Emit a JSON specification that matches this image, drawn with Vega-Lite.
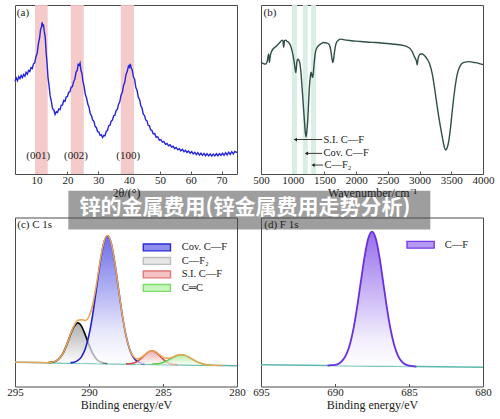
{
  "$schema": "https://vega.github.io/schema/vega-lite/v6.json",
  "background": "white",
  "padding": {"left": 6, "top": 4, "right": 4, "bottom": 4},
  "bounds": "flush",
  "columns": 2,
  "spacing": {"row": 43.5, "column": 24},
  "resolve": {"scale": {"x": "independent", "y": "independent", "fill": "independent", "stroke": "independent"}, "legend": {"fill": "independent", "stroke": "independent"}},
  "config": {
    "font": "Liberation Serif",
    "view": {"stroke": "#4a4a4a", "strokeWidth": 1},
    "text": {"font": "Liberation Serif", "fontSize": 11, "color": "#222222"},
    "axis": {
      "grid": false, "domain": false, "ticks": true, "tickSize": -3, "tickColor": "#555555",
      "labelFont": "Liberation Serif", "labelFontSize": 11, "labelColor": "#222222", "labelPadding": 3,
      "labelFlush": false, "labelOverlap": false, "labelBound": false,
      "titleFont": "Liberation Serif", "titleFontSize": 12, "titleFontWeight": "normal", "titleColor": "#222222", "titlePadding": 2
    }
  },
  "datasets": {
    "xrd": [
      {"angle":3,"counts":55},{"angle":3.4,"counts":56.8},{"angle":3.8,"counts":55.2},{"angle":4.2,"counts":57.6},{"angle":4.6,"counts":56.4},{"angle":5,"counts":58.3},{"angle":5.4,"counts":57},{"angle":5.8,"counts":58.9},{"angle":6.2,"counts":57.9},{"angle":6.6,"counts":60.2},{"angle":7,"counts":59.1},{"angle":7.4,"counts":61.3},{"angle":7.8,"counts":60.6},{"angle":8.2,"counts":62.9},{"angle":8.6,"counts":62.4},{"angle":9,"counts":65.2},{"angle":9.4,"counts":65.8},{"angle":9.8,"counts":69.4},{"angle":10.2,"counts":71.5},{"angle":10.6,"counts":77.2},{"angle":11,"counts":80.9},{"angle":11.3,"counts":85.6},{"angle":11.6,"counts":86.9},{"angle":11.8,"counts":89.8},{"angle":12,"counts":87.4},{"angle":12.2,"counts":88.6},{"angle":12.5,"counts":84.2},{"angle":12.8,"counts":81},{"angle":13.1,"counts":72},{"angle":13.4,"counts":65.5},{"angle":13.7,"counts":57.2},{"angle":14,"counts":53},{"angle":14.4,"counts":46.2},{"angle":14.8,"counts":42.8},{"angle":15.2,"counts":38.6},{"angle":15.6,"counts":37.9},{"angle":16,"counts":35.2},{"angle":16.4,"counts":36.8},{"angle":16.8,"counts":36.4},{"angle":17.2,"counts":38.5},{"angle":17.6,"counts":38.1},{"angle":18,"counts":40.6},{"angle":18.4,"counts":40.9},{"angle":18.8,"counts":43.5},{"angle":19.2,"counts":43},{"angle":19.6,"counts":45.6},{"angle":20,"counts":45.8},{"angle":20.4,"counts":48.3},{"angle":20.8,"counts":48.6},{"angle":21.2,"counts":51.4},{"angle":21.6,"counts":51.6},{"angle":22,"counts":54.6},{"angle":22.4,"counts":56.1},{"angle":22.8,"counts":60.2},{"angle":23.2,"counts":61.4},{"angle":23.5,"counts":64.8},{"angle":23.8,"counts":64.3},{"angle":24.1,"counts":65.6},{"angle":24.4,"counts":61.2},{"angle":24.7,"counts":59.6},{"angle":25,"counts":55.3},{"angle":25.4,"counts":52},{"angle":25.8,"counts":47.2},{"angle":26.2,"counts":45.1},{"angle":26.6,"counts":41.4},{"angle":27,"counts":39.6},{"angle":27.4,"counts":35.8},{"angle":27.8,"counts":34.6},{"angle":28.2,"counts":31.9},{"angle":28.6,"counts":31.2},{"angle":29,"counts":28.2},{"angle":29.4,"counts":27.4},{"angle":29.8,"counts":25},{"angle":30.2,"counts":24.8},{"angle":30.6,"counts":22.9},{"angle":31,"counts":23.3},{"angle":31.4,"counts":21.6},{"angle":31.8,"counts":22.9},{"angle":32.2,"counts":22.6},{"angle":32.6,"counts":25.2},{"angle":33,"counts":25.8},{"angle":33.4,"counts":28.6},{"angle":33.8,"counts":28.9},{"angle":34.2,"counts":31.3},{"angle":34.6,"counts":31.9},{"angle":35,"counts":34.5},{"angle":35.4,"counts":34.8},{"angle":35.8,"counts":37.6},{"angle":36.2,"counts":38.2},{"angle":36.6,"counts":41.3},{"angle":37,"counts":42.9},{"angle":37.4,"counts":46.8},{"angle":37.8,"counts":48.2},{"angle":38.2,"counts":52.4},{"angle":38.6,"counts":54.3},{"angle":39,"counts":58.9},{"angle":39.4,"counts":60.6},{"angle":39.8,"counts":63.9},{"angle":40.1,"counts":63.2},{"angle":40.4,"counts":65.1},{"angle":40.7,"counts":62.5},{"angle":41,"counts":61.8},{"angle":41.4,"counts":57.6},{"angle":41.8,"counts":55.9},{"angle":42.2,"counts":51.1},{"angle":42.6,"counts":49.4},{"angle":43,"counts":45.3},{"angle":43.4,"counts":44.1},{"angle":43.8,"counts":40.4},{"angle":44.2,"counts":39},{"angle":44.6,"counts":35.4},{"angle":45,"counts":34.6},{"angle":45.4,"counts":32},{"angle":45.8,"counts":31.4},{"angle":46.2,"counts":28.8},{"angle":46.6,"counts":28.5},{"angle":47,"counts":26.1},{"angle":47.4,"counts":25.9},{"angle":47.8,"counts":23.8},{"angle":48.3,"counts":23.9},{"angle":48.8,"counts":21.7},{"angle":49.3,"counts":22},{"angle":49.8,"counts":20.1},{"angle":50.3,"counts":20.4},{"angle":50.8,"counts":18.8},{"angle":51.3,"counts":19.2},{"angle":51.8,"counts":17.6},{"angle":52.3,"counts":18.1},{"angle":52.8,"counts":16.7},{"angle":53.3,"counts":17.3},{"angle":53.8,"counts":15.9},{"angle":54.3,"counts":16.4},{"angle":54.8,"counts":15},{"angle":55.3,"counts":15.7},{"angle":55.8,"counts":14.3},{"angle":56.3,"counts":15},{"angle":56.8,"counts":13.7},{"angle":57.3,"counts":14.6},{"angle":57.8,"counts":13.2},{"angle":58.3,"counts":14},{"angle":58.8,"counts":12.8},{"angle":59.3,"counts":13.6},{"angle":59.8,"counts":12.3},{"angle":60.3,"counts":13.2},{"angle":60.8,"counts":11.9},{"angle":61.3,"counts":12.8},{"angle":61.8,"counts":11.5},{"angle":62.3,"counts":12.6},{"angle":62.8,"counts":11.2},{"angle":63.3,"counts":12.3},{"angle":63.8,"counts":11},{"angle":64.3,"counts":12.2},{"angle":64.8,"counts":10.8},{"angle":65.3,"counts":12},{"angle":65.8,"counts":10.7},{"angle":66.3,"counts":11.9},{"angle":66.8,"counts":10.6},{"angle":67.3,"counts":11.8},{"angle":67.8,"counts":10.7},{"angle":68.3,"counts":12},{"angle":68.8,"counts":10.8},{"angle":69.3,"counts":12.1},{"angle":69.8,"counts":11},{"angle":70.3,"counts":12.3},{"angle":70.8,"counts":11.1},{"angle":71.3,"counts":12.6},{"angle":71.8,"counts":11.3},{"angle":72.3,"counts":12.9},{"angle":72.8,"counts":11.6},{"angle":73.3,"counts":13.2},{"angle":73.8,"counts":11.9},{"angle":74.3,"counts":13.4},{"angle":75,"counts":12.6}
    ],
    "ftir": [
      {"wn":500,"T":66},{"wn":530,"T":65.5},{"wn":568,"T":65},{"wn":600,"T":67},{"wn":621,"T":71},{"wn":632,"T":66},{"wn":647,"T":70},{"wn":674,"T":73},{"wn":720,"T":75},{"wn":753,"T":76},{"wn":800,"T":78},{"wn":832,"T":79.2},{"wn":845,"T":79},{"wn":858,"T":75},{"wn":870,"T":79},{"wn":884,"T":79.2},{"wn":910,"T":78.5},{"wn":937,"T":77.8},{"wn":965,"T":76},{"wn":989,"T":73},{"wn":1016,"T":68},{"wn":1035,"T":63},{"wn":1050,"T":60},{"wn":1065,"T":66},{"wn":1079,"T":68},{"wn":1095,"T":67.5},{"wn":1110,"T":66},{"wn":1130,"T":60},{"wn":1147,"T":51.4},{"wn":1165,"T":42},{"wn":1184,"T":31.8},{"wn":1200,"T":24},{"wn":1210,"T":22},{"wn":1222,"T":25},{"wn":1237,"T":31.8},{"wn":1250,"T":42},{"wn":1263,"T":51.4},{"wn":1276,"T":57},{"wn":1289,"T":60.2},{"wn":1300,"T":59},{"wn":1310,"T":57.2},{"wn":1320,"T":58},{"wn":1332,"T":63},{"wn":1345,"T":68},{"wn":1358,"T":72},{"wn":1380,"T":74.5},{"wn":1410,"T":76},{"wn":1450,"T":77.2},{"wn":1489,"T":77.8},{"wn":1530,"T":77.5},{"wn":1568,"T":76.9},{"wn":1590,"T":75},{"wn":1605,"T":72},{"wn":1620,"T":68},{"wn":1632,"T":66},{"wn":1645,"T":68},{"wn":1658,"T":72},{"wn":1675,"T":76},{"wn":1690,"T":77.8},{"wn":1720,"T":79.2},{"wn":1753,"T":79.8},{"wn":1800,"T":79.5},{"wn":1900,"T":79},{"wn":2000,"T":78.6},{"wn":2068,"T":78.4},{"wn":2200,"T":78},{"wn":2300,"T":77.8},{"wn":2437,"T":77.4},{"wn":2600,"T":76.8},{"wn":2753,"T":76},{"wn":2820,"T":75},{"wn":2858,"T":73.9},{"wn":2890,"T":72},{"wn":2911,"T":70},{"wn":2925,"T":69},{"wn":2937,"T":68},{"wn":2950,"T":67},{"wn":2963,"T":64.5},{"wn":2975,"T":68},{"wn":2990,"T":70},{"wn":3015,"T":71},{"wn":3042,"T":71},{"wn":3080,"T":70},{"wn":3121,"T":68},{"wn":3160,"T":65},{"wn":3200,"T":59.2},{"wn":3240,"T":50},{"wn":3279,"T":39.6},{"wn":3320,"T":30},{"wn":3358,"T":22},{"wn":3390,"T":16},{"wn":3411,"T":14.1},{"wn":3435,"T":15.5},{"wn":3463,"T":20},{"wn":3490,"T":28},{"wn":3516,"T":37.6},{"wn":3555,"T":50},{"wn":3595,"T":59.2},{"wn":3640,"T":64},{"wn":3700,"T":66},{"wn":3780,"T":66.5},{"wn":3858,"T":66},{"wn":3930,"T":65.5},{"wn":4000,"T":64.7}
    ],
    "c1s": [
      {"comp":"Cov. C—F","be":291.25,"y":14.1,"b":13.9},{"comp":"Cov. C—F","be":291,"y":14.4,"b":13.8},{"comp":"Cov. C—F","be":290.75,"y":15.4,"b":13.8},{"comp":"Cov. C—F","be":290.5,"y":17.7,"b":13.8},{"comp":"Cov. C—F","be":290.25,"y":22.3,"b":13.7},{"comp":"Cov. C—F","be":290,"y":30.5,"b":13.7},{"comp":"Cov. C—F","be":289.75,"y":42.6,"b":13.7},{"comp":"Cov. C—F","be":289.5,"y":57.6,"b":13.6},{"comp":"Cov. C—F","be":289.25,"y":73.1,"b":13.6},{"comp":"Cov. C—F","be":289,"y":84.9,"b":13.6},{"comp":"Cov. C—F","be":288.75,"y":89.2,"b":13.5},{"comp":"Cov. C—F","be":288.5,"y":84.8,"b":13.5},{"comp":"Cov. C—F","be":288.25,"y":73,"b":13.5},{"comp":"Cov. C—F","be":288,"y":57.4,"b":13.4},{"comp":"Cov. C—F","be":287.75,"y":42.3,"b":13.4},{"comp":"Cov. C—F","be":287.5,"y":30.2,"b":13.4},{"comp":"Cov. C—F","be":287.25,"y":21.9,"b":13.3},{"comp":"Cov. C—F","be":287,"y":17.2,"b":13.3},{"comp":"Cov. C—F","be":286.75,"y":14.8,"b":13.2},{"comp":"Cov. C—F","be":286.5,"y":13.8,"b":13.2},{"comp":"Cov. C—F","be":286.25,"y":13.4,"b":13.2},
      {"comp":"C—F₂","be":292.75,"y":14.2,"b":14.1},{"comp":"C—F₂","be":292.5,"y":14.4,"b":14.1},{"comp":"C—F₂","be":292.25,"y":15,"b":14},{"comp":"C—F₂","be":292,"y":16.7,"b":14},{"comp":"C—F₂","be":291.75,"y":19.8,"b":13.9},{"comp":"C—F₂","be":291.5,"y":24.8,"b":13.9},{"comp":"C—F₂","be":291.25,"y":30.7,"b":13.9},{"comp":"C—F₂","be":291,"y":35.6,"b":13.8},{"comp":"C—F₂","be":290.75,"y":37.6,"b":13.8},{"comp":"C—F₂","be":290.5,"y":35.6,"b":13.8},{"comp":"C—F₂","be":290.25,"y":30.5,"b":13.7},{"comp":"C—F₂","be":290,"y":24.6,"b":13.7},{"comp":"C—F₂","be":289.75,"y":19.6,"b":13.7},{"comp":"C—F₂","be":289.5,"y":16.3,"b":13.6},{"comp":"C—F₂","be":289.25,"y":14.6,"b":13.6},{"comp":"C—F₂","be":289,"y":13.9,"b":13.6},{"comp":"C—F₂","be":288.75,"y":13.6,"b":13.5},
      {"comp":"S.I. C—F","be":287.5,"y":13.5,"b":13.4},{"comp":"S.I. C—F","be":287.25,"y":13.5,"b":13.3},{"comp":"S.I. C—F","be":287,"y":13.9,"b":13.3},{"comp":"S.I. C—F","be":286.75,"y":14.7,"b":13.2},{"comp":"S.I. C—F","be":286.5,"y":16.4,"b":13.2},{"comp":"S.I. C—F","be":286.25,"y":18.5,"b":13.2},{"comp":"S.I. C—F","be":286,"y":20.3,"b":13.1},{"comp":"S.I. C—F","be":285.75,"y":21.1,"b":13.1},{"comp":"S.I. C—F","be":285.5,"y":20.3,"b":13.1},{"comp":"S.I. C—F","be":285.25,"y":18.3,"b":13},{"comp":"S.I. C—F","be":285,"y":16.2,"b":13},{"comp":"S.I. C—F","be":284.75,"y":14.5,"b":13},{"comp":"S.I. C—F","be":284.5,"y":13.5,"b":12.9},{"comp":"S.I. C—F","be":284.25,"y":13.1,"b":12.9},{"comp":"S.I. C—F","be":284,"y":13,"b":12.9},
      {"comp":"C═C","be":285.75,"y":13.2,"b":13.1},{"comp":"C═C","be":285.5,"y":13.4,"b":13.1},{"comp":"C═C","be":285.25,"y":13.6,"b":13},{"comp":"C═C","be":285,"y":14.2,"b":13},{"comp":"C═C","be":284.75,"y":15.2,"b":13},{"comp":"C═C","be":284.5,"y":16.3,"b":12.9},{"comp":"C═C","be":284.25,"y":17.5,"b":12.9},{"comp":"C═C","be":284,"y":18.5,"b":12.9},{"comp":"C═C","be":283.75,"y":18.8,"b":12.8},{"comp":"C═C","be":283.5,"y":18.4,"b":12.8},{"comp":"C═C","be":283.25,"y":17.4,"b":12.8},{"comp":"C═C","be":283,"y":16.1,"b":12.7},{"comp":"C═C","be":282.75,"y":14.9,"b":12.7},{"comp":"C═C","be":282.5,"y":13.9,"b":12.7},{"comp":"C═C","be":282.25,"y":13.2,"b":12.6},{"comp":"C═C","be":282,"y":12.9,"b":12.6},{"comp":"C═C","be":281.75,"y":12.6,"b":12.5}
    ],
    "c1sEnvelope": [
      {"be":295,"y":14.4},{"be":294,"y":14.3},{"be":293.5,"y":14.2},{"be":293,"y":14.1},{"be":292.75,"y":14.2},{"be":292.5,"y":14.4},{"be":292.25,"y":15},{"be":292,"y":16.7},{"be":291.75,"y":19.8},{"be":291.5,"y":24.8},{"be":291.25,"y":30.9},{"be":291,"y":36.2},{"be":290.75,"y":39.2},{"be":290.5,"y":39.5},{"be":290.25,"y":39.1},{"be":290,"y":41.4},{"be":289.75,"y":48.5},{"be":289.5,"y":60.3},{"be":289.25,"y":74.1},{"be":289,"y":85.2},{"be":288.75,"y":89.3},{"be":288.5,"y":84.8},{"be":288.25,"y":73},{"be":288,"y":57.4},{"be":287.75,"y":42.3},{"be":287.5,"y":30.3},{"be":287.25,"y":22.1},{"be":287,"y":17.8},{"be":286.75,"y":16.3},{"be":286.5,"y":17},{"be":286.25,"y":18.7},{"be":286,"y":20.3},{"be":285.75,"y":21.2},{"be":285.5,"y":20.6},{"be":285.25,"y":18.9},{"be":285,"y":17.4},{"be":284.75,"y":16.7},{"be":284.5,"y":16.9},{"be":284.25,"y":17.7},{"be":284,"y":18.6},{"be":283.75,"y":18.8},{"be":283.5,"y":18.4},{"be":283.25,"y":17.4},{"be":283,"y":16.1},{"be":282.75,"y":14.9},{"be":282.5,"y":13.9},{"be":282.25,"y":13.2},{"be":282,"y":12.9},{"be":281.75,"y":12.6},{"be":281.5,"y":12.5},{"be":281,"y":12.4}
    ],
    "f1s": [
      {"be":690.5,"y":12.4,"b":12.4},{"be":690.25,"y":12.6,"b":12.4},{"be":690,"y":12.8,"b":12.3},{"be":689.75,"y":13.5,"b":12.3},{"be":689.5,"y":15.3,"b":12.3},{"be":689.25,"y":18.7,"b":12.3},{"be":689,"y":24.7,"b":12.2},{"be":688.75,"y":34.2,"b":12.2},{"be":688.5,"y":47.2,"b":12.2},{"be":688.25,"y":62.3,"b":12.2},{"be":688,"y":76.9,"b":12.2},{"be":687.75,"y":87.7,"b":12.1},{"be":687.5,"y":91.7,"b":12.1},{"be":687.25,"y":87.7,"b":12.1},{"be":687,"y":76.9,"b":12.1},{"be":686.75,"y":62.1,"b":12},{"be":686.5,"y":47,"b":12},{"be":686.25,"y":34,"b":12},{"be":686,"y":24.5,"b":12},{"be":685.75,"y":18.3,"b":11.9},{"be":685.5,"y":14.9,"b":11.9},{"be":685.25,"y":13.1,"b":11.9},{"be":685,"y":12.4,"b":11.9},{"be":684.75,"y":12,"b":11.8},{"be":684.5,"y":11.8,"b":11.8}
    ]
  },
  "concat": [
    {
      "width": 222, "height": 169,
      "layer": [
        {
          "data": {"values": [{"lo": 9.5, "hi": 13.6}, {"lo": 21.1, "hi": 25.3}, {"lo": 37.3, "hi": 41.6}]},
          "mark": {"type": "rect", "color": "#f3c4c4", "opacity": 0.9},
          "encoding": {
            "x": {"field": "lo", "type": "quantitative", "scale": {"domain": [3, 75], "nice": false, "zero": false}, "axis": {"values": [10, 20, 30, 40, 50, 60, 70], "tickCount": 12, "format": "d", "labelOverlap": false, "title": "2θ/(°)"}},
            "x2": {"field": "hi"}
          }
        },
        {
          "data": {"name": "xrd"},
          "mark": {"type": "line", "color": "#2424de", "strokeWidth": 1.4},
          "encoding": {
            "x": {"field": "angle", "type": "quantitative"},
            "y": {"field": "counts", "type": "quantitative", "scale": {"domain": [0, 100]}, "axis": null}
          }
        },
        {
          "data": {"values": [{"hkl": "(001)", "angle": 10.5}, {"hkl": "(002)", "angle": 22.75}, {"hkl": "(100)", "angle": 39.7}]},
          "mark": {"type": "text", "align": "center", "baseline": "middle", "fontSize": 11},
          "encoding": {
            "x": {"field": "angle", "type": "quantitative"},
            "y": {"datum": 10.8, "type": "quantitative"},
            "text": {"field": "hkl"}
          }
        },
        {
          "data": {"values": [{}]},
          "mark": {"type": "text", "align": "left", "baseline": "middle", "fontSize": 11},
          "encoding": {
            "x": {"datum": 3.6, "type": "quantitative"},
            "y": {"datum": 95.5, "type": "quantitative"},
            "text": {"value": "(a)"}
          }
        },
        {
          "data": {"values": [{"headline": "锌的金属费用(锌金属费用走势分析)"}]},
          "layer": [
            {
              "mark": {"type": "rect", "color": "#000000", "opacity": 0.38},
              "encoding": {
                "x": {"datum": 20.3, "type": "quantitative"},
                "x2": {"datum": 137.7},
                "y": {"datum": -9.9, "type": "quantitative"},
                "y2": {"datum": -32.9}
              }
            },
            {
              "mark": {"type": "text", "font": "Noto Sans CJK SC", "fontWeight": "bold", "fontSize": 21, "color": "#ffffff", "align": "center", "baseline": "middle"},
              "encoding": {
                "x": {"datum": 77.6, "type": "quantitative"},
                "y": {"datum": -20.4, "type": "quantitative"},
                "text": {"field": "headline"}
              }
            }
          ]
        }
      ]
    },
    {
      "width": 222, "height": 169,
      "layer": [
        {
          "data": {"values": [{"lo": 989, "hi": 1068}, {"lo": 1158, "hi": 1237}, {"lo": 1289, "hi": 1368}]},
          "mark": {"type": "rect", "color": "#d5ede1", "opacity": 0.9},
          "encoding": {
            "x": {"field": "lo", "type": "quantitative", "scale": {"domain": [500, 4000], "nice": false, "zero": false}, "axis": {"values": [500, 1000, 1500, 2000, 2500, 3000, 3500, 4000], "tickCount": 12, "format": "d", "labelOverlap": false, "title": "Wavenumber/cm⁻¹"}},
            "x2": {"field": "hi"}
          }
        },
        {
          "data": {"name": "ftir"},
          "mark": {"type": "line", "color": "#2f4e47", "strokeWidth": 1.4, "interpolate": "monotone"},
          "encoding": {
            "x": {"field": "wn", "type": "quantitative"},
            "y": {"field": "T", "type": "quantitative", "scale": {"domain": [0, 100]}, "axis": null}
          }
        },
        {
          "data": {"values": [{"band": "S.I. C—F", "tip": 1042, "tail": 1465, "tx": 1485, "level": 20.4}, {"band": "Cov. C—F", "tip": 1216, "tail": 1465, "tx": 1485, "level": 12.2}, {"band": "C—F₂", "tip": 1321, "tail": 1480, "tx": 1500, "level": 5.3}]},
          "layer": [
            {
              "mark": {"type": "rule", "color": "#222222", "strokeWidth": 0.9},
              "encoding": {
                "x": {"field": "tip", "type": "quantitative"},
                "x2": {"field": "tail"},
                "y": {"field": "level", "type": "quantitative"}
              }
            },
            {
              "mark": {"type": "point", "shape": "triangle-left", "filled": true, "color": "#222222", "size": 14, "opacity": 1},
              "encoding": {
                "x": {"field": "tip", "type": "quantitative"},
                "y": {"field": "level", "type": "quantitative"}
              }
            },
            {
              "mark": {"type": "text", "align": "left", "baseline": "middle", "fontSize": 10.5},
              "encoding": {
                "x": {"field": "tx", "type": "quantitative"},
                "y": {"field": "level", "type": "quantitative"},
                "text": {"field": "band"}
              }
            }
          ]
        },
        {
          "data": {"values": [{}]},
          "mark": {"type": "text", "align": "left", "baseline": "middle", "fontSize": 11},
          "encoding": {
            "x": {"datum": 541, "type": "quantitative"},
            "y": {"datum": 95.5, "type": "quantitative"},
            "text": {"value": "(b)"}
          }
        }
      ]
    },
    {
      "width": 222, "height": 169,
      "layer": [
        {
          "data": {"values": [{"be": 295, "v": 14.4}, {"be": 280, "v": 12.3}]},
          "mark": {"type": "line", "color": "#5cb8ad", "strokeWidth": 1.5},
          "encoding": {
            "x": {"field": "be", "type": "quantitative", "scale": {"domain": [280, 295], "reverse": true, "nice": false, "zero": false}, "axis": {"values": [295, 290, 285, 280], "tickCount": 12, "format": "d", "labelOverlap": false, "title": "Binding energy/eV"}},
            "y": {"field": "v", "type": "quantitative", "scale": {"domain": [0, 100]}, "axis": null}
          }
        },
        {
          "data": {"name": "c1s"},
          "transform": [{"filter": "datum.comp === 'C—F₂'"}],
          "mark": {"type": "area", "interpolate": "monotone", "color": {"gradient": "linear", "x1": 0, "y1": 0, "x2": 0, "y2": 1, "stops": [{"offset": 0, "color": "#8c8c8c"}, {"offset": 1, "color": "#ffffff"}]}, "line": {"color": "#0d0d0d", "strokeWidth": 1.7}},
          "encoding": {"x": {"field": "be", "type": "quantitative"}, "y": {"field": "y", "type": "quantitative"}, "y2": {"field": "b"}}
        },
        {
          "data": {"name": "c1s"},
          "transform": [{"filter": "datum.comp === 'Cov. C—F'"}],
          "mark": {"type": "area", "interpolate": "monotone", "color": {"gradient": "linear", "x1": 0, "y1": 0, "x2": 0, "y2": 1, "stops": [{"offset": 0, "color": "#2f2fe0"}, {"offset": 0.75, "color": "#dedefa"}, {"offset": 1, "color": "#ffffff"}]}, "line": {"color": "#2121c9", "strokeWidth": 1.6}},
          "encoding": {"x": {"field": "be", "type": "quantitative"}, "y": {"field": "y", "type": "quantitative"}, "y2": {"field": "b"}}
        },
        {
          "data": {"name": "c1s"},
          "transform": [{"filter": "datum.comp === 'S.I. C—F'"}],
          "mark": {"type": "area", "interpolate": "monotone", "color": {"gradient": "linear", "x1": 0, "y1": 0, "x2": 0, "y2": 1, "stops": [{"offset": 0, "color": "#e58a8a"}, {"offset": 1, "color": "#ffffff"}]}, "line": {"color": "#d24a4a", "strokeWidth": 1.5}},
          "encoding": {"x": {"field": "be", "type": "quantitative"}, "y": {"field": "y", "type": "quantitative"}, "y2": {"field": "b"}}
        },
        {
          "data": {"name": "c1s"},
          "transform": [{"filter": "datum.comp === 'C═C'"}],
          "mark": {"type": "area", "interpolate": "monotone", "color": {"gradient": "linear", "x1": 0, "y1": 0, "x2": 0, "y2": 1, "stops": [{"offset": 0, "color": "#93e47f"}, {"offset": 1, "color": "#ffffff"}]}, "line": {"color": "#62cf45", "strokeWidth": 1.5}},
          "encoding": {"x": {"field": "be", "type": "quantitative"}, "y": {"field": "y", "type": "quantitative"}, "y2": {"field": "b"}}
        },
        {
          "data": {"name": "c1sEnvelope"},
          "mark": {"type": "line", "interpolate": "monotone", "color": "#eaa457", "strokeWidth": 1.5},
          "encoding": {"x": {"field": "be", "type": "quantitative"}, "y": {"field": "y", "type": "quantitative"}}
        },
        {
          "data": {"values": []},
          "mark": {"type": "point", "filled": true, "opacity": 1, "strokeWidth": 1.4},
          "encoding": {
            "fill": {
              "field": "comp", "type": "nominal",
              "scale": {"domain": ["Cov. C—F", "C—F₂", "S.I. C—F", "C═C"], "range": ["#8f8fee", "#e6e6e6", "#f4c2c2", "#c8f4bd"]},
              "legend": {
                "title": null, "orient": "none", "legendX": 128.3, "legendY": 24.7, "padding": 0,
                "symbolType": "M-3.4,-0.85H3.4V0.85H-3.4Z", "symbolSize": 64, "symbolStrokeWidth": 1.4,
                "symbolOffset": 8.35, "labelOffset": 19.5, "rowPadding": 0.5,
                "labelFont": "Liberation Serif", "labelFontSize": 10.5, "labelColor": "#222222"
              }
            },
            "stroke": {
              "field": "comp", "type": "nominal",
              "scale": {"domain": ["Cov. C—F", "C—F₂", "S.I. C—F", "C═C"], "range": ["#2a2ad8", "#bdbdbd", "#e07878", "#7ddc6a"]},
              "legend": {
                "title": null, "orient": "none", "legendX": 128.3, "legendY": 24.7, "padding": 0,
                "symbolType": "M-3.4,-0.85H3.4V0.85H-3.4Z", "symbolSize": 64, "symbolStrokeWidth": 1.4,
                "symbolOffset": 8.35, "labelOffset": 19.5, "rowPadding": 0.5,
                "labelFont": "Liberation Serif", "labelFontSize": 10.5, "labelColor": "#222222"
              }
            }
          }
        },
        {
          "data": {"values": [{}]},
          "mark": {"type": "text", "align": "left", "baseline": "middle", "fontSize": 11},
          "encoding": {
            "x": {"datum": 294.85, "type": "quantitative"},
            "y": {"datum": 95.3, "type": "quantitative"},
            "text": {"value": "(c)  C 1s"}
          }
        }
      ]
    },
    {
      "width": 222, "height": 169,
      "layer": [
        {
          "data": {"values": [{"be": 695, "v": 12.8}, {"be": 680, "v": 11.4}]},
          "mark": {"type": "line", "color": "#5cb8ad", "strokeWidth": 1.5},
          "encoding": {
            "x": {"field": "be", "type": "quantitative", "scale": {"domain": [680, 695], "reverse": true, "nice": false, "zero": false}, "axis": {"values": [695, 690, 685, 680], "tickCount": 12, "format": "d", "labelOverlap": false, "title": "Binding energy/eV"}},
            "y": {"field": "v", "type": "quantitative", "scale": {"domain": [0, 100]}, "axis": null}
          }
        },
        {
          "data": {"name": "f1s"},
          "mark": {"type": "area", "interpolate": "monotone", "color": {"gradient": "linear", "x1": 0, "y1": 0, "x2": 0, "y2": 1, "stops": [{"offset": 0, "color": "#6a2fe2"}, {"offset": 0.8, "color": "#ece6fc"}, {"offset": 1, "color": "#ffffff"}]}, "line": {"color": "#6a30e0", "strokeWidth": 1.8}},
          "encoding": {"x": {"field": "be", "type": "quantitative"}, "y": {"field": "y", "type": "quantitative"}, "y2": {"field": "b"}}
        },
        {
          "data": {"values": []},
          "mark": {"type": "point", "filled": true, "opacity": 1, "strokeWidth": 1.4},
          "encoding": {
            "fill": {
              "field": "comp", "type": "nominal",
              "scale": {"domain": ["C—F"], "range": ["#b49af2"]},
              "legend": {
                "title": null, "orient": "none", "legendX": 146, "legendY": 22, "padding": 0,
                "symbolType": "M-3.4,-0.85H3.4V0.85H-3.4Z", "symbolSize": 64, "symbolStrokeWidth": 1.4,
                "symbolOffset": 8.35, "labelOffset": 18.8,
                "labelFont": "Liberation Serif", "labelFontSize": 10.5, "labelColor": "#222222"
              }
            },
            "stroke": {
              "field": "comp", "type": "nominal",
              "scale": {"domain": ["C—F"], "range": ["#7a3ae8"]},
              "legend": {
                "title": null, "orient": "none", "legendX": 146, "legendY": 22, "padding": 0,
                "symbolType": "M-3.4,-0.85H3.4V0.85H-3.4Z", "symbolSize": 64, "symbolStrokeWidth": 1.4,
                "symbolOffset": 8.35, "labelOffset": 18.8,
                "labelFont": "Liberation Serif", "labelFontSize": 10.5, "labelColor": "#222222"
              }
            }
          }
        },
        {
          "data": {"values": [{}]},
          "mark": {"type": "text", "align": "left", "baseline": "middle", "fontSize": 11},
          "encoding": {
            "x": {"datum": 694.78, "type": "quantitative"},
            "y": {"datum": 95.5, "type": "quantitative"},
            "text": {"value": "(d)  F 1s"}
          }
        }
      ]
    }
  ]
}
